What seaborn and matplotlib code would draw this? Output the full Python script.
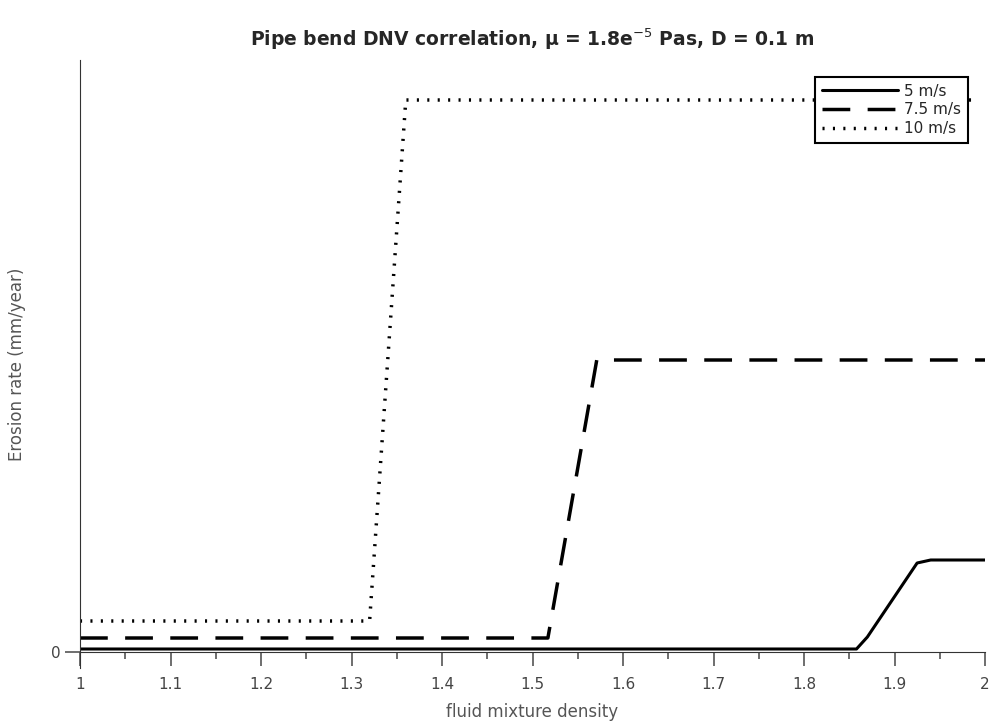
import matplotlib
matplotlib.use("Agg")
import matplotlib.pyplot as plt
import seaborn as sns
import numpy as np
from matplotlib.ticker import MultipleLocator

sns.set_style("white")
plt.rcParams['font.family'] = ['DejaVu Sans']

# data (erosion rate, arbitrary units)
x_5 = [1.0, 1.858, 1.87, 1.925, 1.94, 2.0]
y_5 = [0.03, 0.03, 0.15, 0.89, 0.92, 0.92]
x_75 = [1.0, 1.517, 1.571, 2.0]
y_75 = [0.14, 0.14, 2.92, 2.92]
x_10 = [1.0, 1.32, 1.36, 1.99]
y_10 = [0.31, 0.31, 5.52, 5.52]
labels = ["5 m/s", "7.5 m/s", "10 m/s"]
xtick_labels = ["1", "1.1", "1.2", "1.3", "1.4", "1.5", "1.6", "1.7", "1.8", "1.9", "2"]

fig = plt.figure(figsize=(9.9, 7.27), dpi=100)
ax = fig.add_axes([80/990, (727-668)/727, 905/990, (668-60)/727])

sns.lineplot(x=x_5, y=y_5, ax=ax, color='black', lw=2.2, label=labels[0])
sns.lineplot(x=x_75, y=y_75, ax=ax, color='black', lw=2.5, label=labels[1])
ax.lines[-1].set_dashes([8, 5])
sns.lineplot(x=x_10, y=y_10, ax=ax, color='black', lw=2.5, label=labels[2])
ax.lines[-1].set_dashes([0.6, 2.4])

ax.set_xlim(1.0, 2.0)
ax.set_ylim(-0.16, 5.92)
for s in ['top', 'right']:
    ax.spines[s].set_visible(False)
ax.spines['bottom'].set_position(('data', 0))
ax.spines['left'].set_color('#333333')
ax.spines['bottom'].set_color('#333333')

ax.set_xticks(np.arange(1.0, 2.01, 0.1))
ax.set_xticklabels(xtick_labels)
ax.xaxis.set_minor_locator(MultipleLocator(0.05))
ax.set_yticks([0])
ax.set_yticklabels(["0"])
ax.tick_params(axis='x', which='major', direction='out', length=10, width=1.2,
               color='#555555', pad=8, labelsize=11, labelcolor='#444444', bottom=True)
ax.tick_params(axis='x', which='minor', direction='out', length=5, width=1.2,
               color='#555555', bottom=True)
ax.tick_params(axis='y', which='major', direction='out', length=11, width=1.2,
               color='#555555', pad=3, labelsize=11, labelcolor='#444444', left=True)

ax.set_xlabel("fluid mixture density", fontsize=12, color='#555555', labelpad=0)
ax.xaxis.set_label_coords(0.5, -0.058)
ax.set_ylabel("Erosion rate (mm/year)", fontsize=12, color='#555555')
ax.yaxis.set_label_coords(-0.060, 0.5)
ax.set_title("Pipe bend DNV correlation, μ = 1.8e$^{-5}$ Pas, D = 0.1 m",
             fontsize=13.5, fontweight='bold', pad=10)

leg = ax.legend(loc='upper right', bbox_to_anchor=(0.99, 0.985), frameon=True,
                fancybox=False, edgecolor='black', fontsize=11, handlelength=5,
                borderpad=0.45, labelspacing=0.25, handletextpad=0.4)
leg.get_frame().set_linewidth(1.5)
leg.get_frame().set_alpha(1)

fig.savefig("out.png", dpi=100)
